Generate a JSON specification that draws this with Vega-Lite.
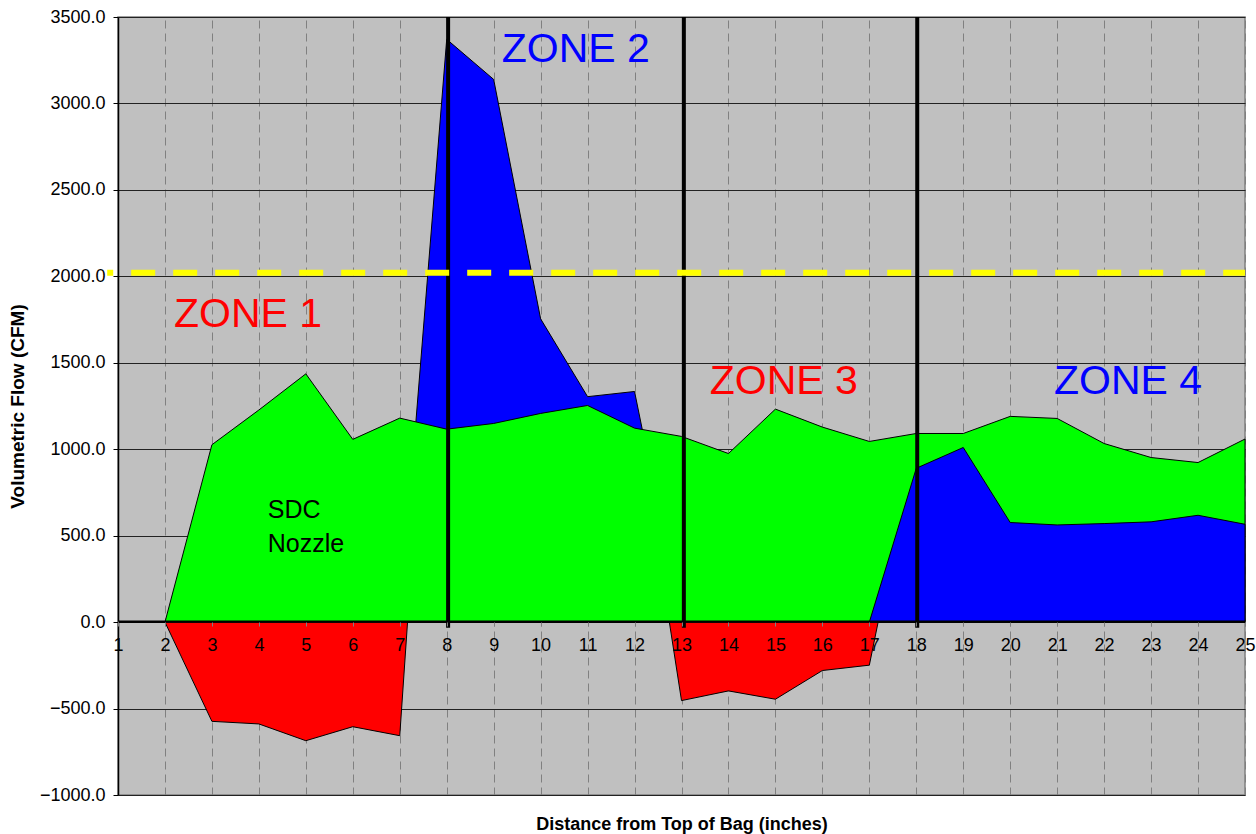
{
  "$schema": "https://vega.github.io/schema/vega-lite/v6.json",
  "autosize": "none",
  "width": 1127,
  "height": 778,
  "padding": {"left": 118, "top": 17, "right": 11, "bottom": 39},
  "background": "white",
  "config": {
    "view": {"stroke": "#808080", "strokeWidth": 1.5, "fill": "#C0C0C0"},
    "font": "Liberation Sans",
    "axis": {"labelFont": "Liberation Sans", "titleFont": "Liberation Sans"}
  },
  "datasets": {
    "red": [
      {"x": 1, "y": 0}, {"x": 2, "y": 0}, {"x": 3, "y": -574}, {"x": 4, "y": -589},
      {"x": 5, "y": -686}, {"x": 6, "y": -605}, {"x": 7, "y": -657}, {"x": 8, "y": 3300},
      {"x": 9, "y": 3100}, {"x": 10, "y": 1700}, {"x": 11, "y": 1250}, {"x": 12, "y": 1300},
      {"x": 13, "y": -454}, {"x": 14, "y": -398}, {"x": 15, "y": -446}, {"x": 16, "y": -280},
      {"x": 17, "y": -249}, {"x": 18, "y": 1080}
    ],
    "blue2": [
      {"x": 7, "y": 0}, {"x": 8, "y": 3371}, {"x": 9, "y": 3139}, {"x": 10, "y": 1754},
      {"x": 11, "y": 1304}, {"x": 12, "y": 1334}, {"x": 13, "y": 0}
    ],
    "green": [
      {"x": 1, "y": 0}, {"x": 2, "y": 0}, {"x": 3, "y": 1026}, {"x": 4, "y": 1227},
      {"x": 5, "y": 1436}, {"x": 6, "y": 1057}, {"x": 7, "y": 1180}, {"x": 8, "y": 1116},
      {"x": 9, "y": 1149}, {"x": 10, "y": 1207}, {"x": 11, "y": 1253}, {"x": 12, "y": 1122},
      {"x": 13, "y": 1074}, {"x": 14, "y": 975}, {"x": 15, "y": 1232}, {"x": 16, "y": 1128},
      {"x": 17, "y": 1045}, {"x": 18, "y": 1091}, {"x": 19, "y": 1091}, {"x": 20, "y": 1190},
      {"x": 21, "y": 1178}, {"x": 22, "y": 1033}, {"x": 23, "y": 952}, {"x": 24, "y": 923},
      {"x": 25, "y": 1059}
    ],
    "blue4": [
      {"x": 17, "y": 0}, {"x": 18, "y": 890}, {"x": 19, "y": 1010}, {"x": 20, "y": 576},
      {"x": 21, "y": 562}, {"x": 22, "y": 570}, {"x": 23, "y": 580}, {"x": 24, "y": 618},
      {"x": 25, "y": 566}
    ],
    "dividers": [
      {"x": 8.03, "y": -33, "y2": 3500},
      {"x": 13.05, "y": -33, "y2": 3500},
      {"x": 18.02, "y": -33, "y2": 3500}
    ],
    "limit": [{"x": 0.77, "x2": 25, "y": 2021}],
    "zones": [
      {"x": 3.77, "y": 1779, "label": "ZONE 1", "c": "red"},
      {"x": 10.75, "y": 3309, "label": "ZONE 2", "c": "blue"},
      {"x": 15.18, "y": 1391, "label": "ZONE 3", "c": "red"},
      {"x": 22.51, "y": 1391, "label": "ZONE 4", "c": "blue"}
    ],
    "note": [{"x": 4.19, "y": 649, "label": "SDC\nNozzle"}]
  },
  "resolve": {"axis": {"x": "independent"}},
  "layer": [
    {
      "data": {"name": "red"},
      "mark": {"type": "area", "color": "#FF0000", "stroke": "black", "strokeWidth": 1, "opacity": 1},
      "encoding": {
        "x": {
          "field": "x", "type": "quantitative",
          "scale": {"domain": [1, 25], "nice": false, "zero": false},
          "axis": {
            "orient": "top",
            "values": [1,2,3,4,5,6,7,8,9,10,11,12,13,14,15,16,17,18,19,20,21,22,23,24,25],
            "domain": false, "ticks": false, "labels": false, "title": null,
            "grid": true, "gridColor": "#808080", "gridDash": [8, 5], "gridWidth": 1,
            "zindex": 0
          }
        },
        "y": {
          "field": "y", "type": "quantitative",
          "scale": {"domain": [-1000, 3500], "nice": false},
          "axis": {
            "values": [-1000, -500, 0, 500, 1000, 1500, 2000, 2500, 3000, 3500],
            "format": ".1f",
            "domainColor": "black", "domainWidth": 1.5,
            "tickColor": "black", "tickSize": 5,
            "labelFontSize": 18, "labelColor": "black", "labelPadding": 8,
            "grid": true, "gridColor": "#222222", "gridWidth": 1,
            "title": "Volumetric Flow (CFM)",
            "titleFontSize": 19, "titleFontWeight": "bold", "titleColor": "black",
            "titleX": -101, "titleY": 389, "titleAngle": 270,
            "titleAlign": "center", "titleBaseline": "middle"
          }
        },
        "y2": {"datum": 0}
      }
    },
    {
      "encoding": {
        "x": {
          "field": "x", "type": "quantitative",
          "scale": {"domain": [1, 25], "nice": false, "zero": false},
          "axis": {
            "orient": "bottom",
            "values": [1,2,3,4,5,6,7,8,9,10,11,12,13,14,15,16,17,18,19,20,21,22,23,24,25],
            "format": "d",
            "offset": -174,
            "zindex": 1,
            "grid": false,
            "domainColor": "black", "domainWidth": 2,
            "tickColor": "#808080", "tickSize": 5,
            "labelFontSize": 18, "labelColor": "black", "labelPadding": 10,
            "labelOverlap": false, "labelFlush": false,
            "title": "Distance from Top of Bag (inches)",
            "titleFontSize": 18, "titleFontWeight": "bold", "titleColor": "black",
            "titleY": 203, "titleBaseline": "middle"
          }
        },
        "y": {"field": "y", "type": "quantitative"}
      },
      "layer": [
        {
          "data": {"name": "blue2"},
          "mark": {"type": "area", "color": "#0000FF", "stroke": "black", "strokeWidth": 1, "opacity": 1},
          "encoding": {"y2": {"datum": 0}}
        },
        {
          "data": {"name": "green"},
          "mark": {"type": "area", "color": "#00FF00", "stroke": "black", "strokeWidth": 1, "opacity": 1},
          "encoding": {"y2": {"datum": 0}}
        },
        {
          "data": {"name": "blue4"},
          "mark": {"type": "area", "color": "#0000FF", "stroke": "black", "strokeWidth": 1, "opacity": 1},
          "encoding": {"y2": {"datum": 0}}
        },
        {
          "data": {"name": "dividers"},
          "mark": {"type": "rule", "color": "black", "strokeWidth": 4},
          "encoding": {"y2": {"field": "y2"}}
        },
        {
          "data": {"name": "limit"},
          "mark": {"type": "rule", "color": "#FFFF00", "strokeWidth": 6, "strokeDash": [24, 18], "strokeDashOffset": 18, "clip": false},
          "encoding": {"x2": {"field": "x2"}}
        },
        {
          "data": {"name": "zones"},
          "mark": {"type": "text", "fontSize": 41, "font": "Liberation Sans", "align": "center", "baseline": "middle"},
          "encoding": {
            "text": {"field": "label"},
            "color": {"field": "c", "type": "nominal", "scale": {"domain": ["red", "blue"], "range": ["#FF0000", "#0000FF"]}, "legend": null}
          }
        },
        {
          "data": {"name": "note"},
          "mark": {"type": "text", "fontSize": 25, "font": "Liberation Sans", "align": "left", "baseline": "middle", "lineBreak": "\n", "lineHeight": 34, "color": "black"},
          "encoding": {"text": {"field": "label"}}
        }
      ]
    }
  ]
}
